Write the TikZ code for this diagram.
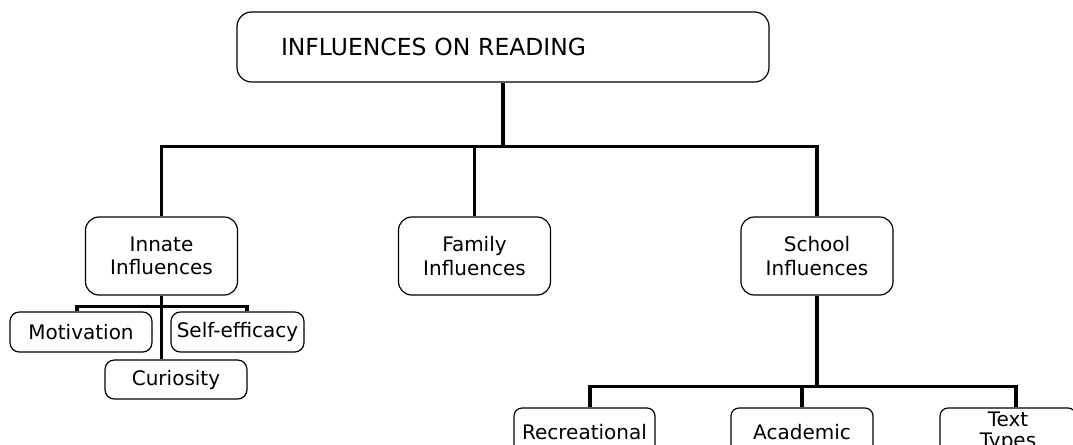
\documentclass[tikz,border=0pt]{standalone}
\usepackage{fontspec}
\setmainfont{DejaVu Sans}
\begin{document}
\begin{tikzpicture}[x=0.75pt, y=-0.75pt, font=\fontsize{15}{17.5}\selectfont,
    box/.style={draw, line width=0.9pt, rounded corners=10pt, align=center, inner sep=0pt},
    link/.style={line width=2.8pt}]
    \useasboundingbox (0,0) rectangle (1073,444);
    \clip (0,0) rectangle (1073,444);
    \node[box, rounded corners=11pt, text width=333pt, inner xsep=33pt, minimum height=52.5pt, align=left,
          font=\fontsize{17.6}{20}\selectfont] (title) at (503,47) {INFLUENCES ON READING};
    \node[box, minimum width=114pt, minimum height=58.5pt] (innate) at (161.5,256) {Innate\\Influences};
    \node[box, minimum width=114pt, minimum height=58.5pt] (family) at (474.5,256) {Family\\Influences};
    \node[box, minimum width=114pt, minimum height=58.5pt] (school) at (817,256) {School\\Influences};
    \node[box, rounded corners=7pt, minimum width=106.5pt, minimum height=30pt] (motiv) at (81,332) {Motivation};
    \node[box, rounded corners=7pt, minimum width=99.75pt, minimum height=30pt] (effic) at (237.5,332) {Self-efficacy};
    \node[box, rounded corners=7pt, minimum width=106.5pt, minimum height=29.25pt] (curio) at (176,379.5) {Curiosity};
    \node[box, rounded corners=6pt, minimum width=105.75pt, minimum height=36pt] (recre) at (584.5,432) {Recreational};
    \node[box, rounded corners=6pt, minimum width=106.5pt, minimum height=36pt] (acad) at (802,432) {Academic};
    \node[box, rounded corners=6pt, minimum width=102pt, minimum height=36pt, font=\fontsize{15}{16}\selectfont] (types) at (1008,432) {Text\\Types};
    \draw[link] (title.south) -- ++(0,64) coordinate (mbus);
    \draw[link] (innate.north) |- (mbus);
    \draw[link] (school.north) |- (mbus);
    \draw[link] (family.north) -- (family.north |- mbus);
    \draw[link] (innate.south) -- ++(0,11) coordinate (ibus);
    \draw[link] ([xshift=-3pt]motiv.north) |- (ibus);
    \draw[link] ([xshift=7.1pt]effic.north) |- (ibus);
    \draw[link] (ibus) -- (ibus |- curio.north);
    \draw[link] (school.south) -- ++(0,91) coordinate (sbus);
    \draw[link] ([xshift=4.1pt]recre.north) |- (sbus);
    \draw[link] ([xshift=6pt]types.north) |- (sbus);
    \draw[link] (acad.north) -- (acad.north |- sbus);
\end{tikzpicture}
\end{document}
